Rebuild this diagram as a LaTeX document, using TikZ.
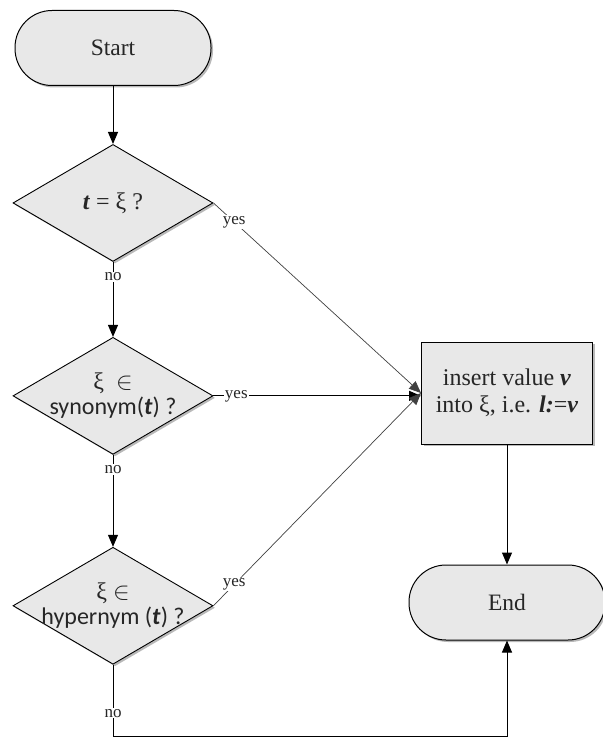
\documentclass[tikz,border=0pt]{standalone}
\usepackage{fontspec}
\setmainfont{Liberation Serif}
\newfontfamily\calibri{Carlito}
\usetikzlibrary{positioning,shapes.geometric,shadows,arrows.meta}

\begin{document}
\begin{tikzpicture}[x=1pt,y=-1pt,
            shade/.style={fill=gray!18, drop shadow={shadow xshift=2pt,shadow yshift=-2pt,opacity=.55}},
            terminal/.style={draw, line width=1pt, shade, rounded corners=37pt, minimum width=196pt, minimum height=75pt, text=black!85, font=\fontsize{23.5}{27}\selectfont},
            decision/.style={diamond, draw, line width=.9pt, shade, minimum width=200pt, minimum height=117pt, inner sep=0pt},
            dtext/.style={align=center, text=black!85, font=\fontsize{24}{25}\selectfont},
            process/.style={draw, line width=1pt, shade, minimum width=171pt, minimum height=102pt, align=center, text=black!85, font=\fontsize{24}{27}\selectfont},
            arr/.style={-{Triangle[length=12pt,width=10pt]}, line width=1pt},
            thin/.style={-{Triangle[length=12pt,width=10pt]}, line width=.7pt, black!75},
            lbl/.style={fill=white, inner sep=1pt, text=black!85, font=\fontsize{17}{20}\selectfont}]
            \useasboundingbox (0,0) rectangle (602,738);
            % left column
            \node[terminal] (start) at (113,48) {Start};
            \node[decision, below=58pt of start,
              label={[dtext]center:\textbf{\textit{t}} = ξ ?}] (d1) {};
            \node[decision, below=75pt of d1,
              label={[dtext]center:ξ \ $\in$\\{\calibri synonym(\textbf{\textit{t}}) ?}}] (d2) {};
            \node[decision, below=92pt of d2,
              label={[dtext]center:ξ $\in$\\{\calibri hypernym (\textbf{\textit{t}}) ?}}] (d3) {};
            % right column
            \node[process] (insert) at (507,393) {insert value \textbf{\textit{ν}}\\into ξ, i.e. \textbf{\textit{l:}}=\textbf{\textit{ν}}};
            \node[terminal, below=120pt of insert] (end) {End};
            \coordinate (bottom) at (end.south |- 0,736);
            % connectors
            \draw[arr] (start) -- (d1);
            \draw[arr] (d1) -- node[lbl, pos=.2] {no} (d2);
            \draw[arr] (d2) -- node[lbl, pos=.16] {no} (d3);
            \draw[arr] (d3.south) |- node[lbl, pos=.34] {no} (bottom) -- (end);
            \draw[thin] (d1.east) -- node[lbl, pos=.1] {yes} (insert.west);
            \draw[arr] (d2.east) -- node[lbl, pos=.11] {yes} (d2.east -| insert.west);
            \draw[thin] (d3.east) -- node[lbl, pos=.1] {yes} (insert.west);
            \draw[arr] (insert) -- (end);
\end{tikzpicture}
\end{document}
